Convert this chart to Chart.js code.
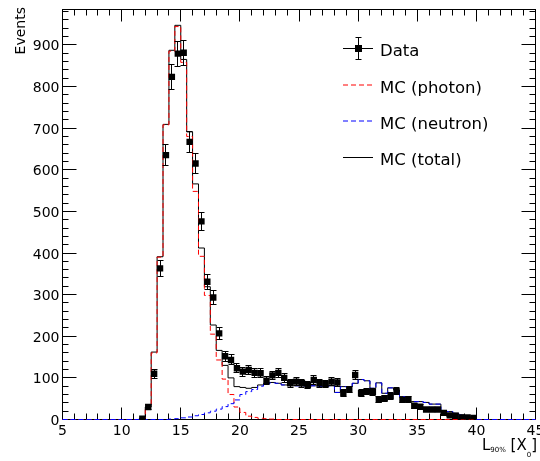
<!DOCTYPE html>
<html>
<head>
<meta charset="utf-8">
<script src="https://cdn.jsdelivr.net/npm/chart.js@4/dist/chart.umd.min.js"></script>
<style>
  html, body { margin: 0; padding: 0; background: #fff; }
  canvas { display: block; }
</style>
</head>
<body>
<canvas id="chart" width="540" height="461"></canvas>
<script>
'use strict'

// 0.5 X0 bins, the first filled bin starts at 11.5 X0
const binStart = 11.5
const binWidth = 0.5

const dataEvents = [
  2, 30, 110, 363, 635, 823, 879, 881, 667, 615, 476, 331, 293, 207, 152, 143,
  123, 115, 119, 112, 111, 93, 106, 112, 100, 87, 91, 87, 83, 95, 87, 85,
  91, 89, 63, 72, 107, 63, 67, 66, 48, 51, 56, 68, 47, 48, 33, 31,
  24, 24, 24, 16, 10, 9, 5, 5, 4,
]
const dataErrors = [
  1, 5, 11, 19, 25, 29, 30, 30, 26, 25, 22, 18, 17, 14, 12, 12,
  11, 11, 11, 11, 11, 10, 10, 11, 10, 9, 10, 9, 9, 10, 9, 9,
  10, 9, 8, 8, 10, 8, 8, 8, 7, 7, 8, 8, 7, 7, 6, 6,
  5, 5, 5, 4, 3, 3, 2, 2, 2,
]
const mcPhoton = [
  3, 30, 160, 390, 708, 885, 944, 858, 680, 548, 392, 298, 205, 143, 97, 60,
  30, 17, 8, 5, 3, 2, 1, 0, 0, 0, 0, 0, 0, 0, 0, 0,
  0, 0, 0, 0, 0, 0, 0, 0, 0, 0, 0, 0, 0, 0, 0, 0,
  0, 0, 0, 0, 0, 0, 0, 0, 0,
]
const mcNeutron = [
  0, 0, 0, 0, 0, 1, 2, 4, 6, 9, 12, 16, 20, 25, 31, 38,
  47, 60, 67, 72, 80, 85, 88, 87, 83, 82, 81, 81, 80, 81, 80, 80,
  81, 65, 79, 79, 87, 96, 93, 75, 88, 63, 76, 71, 55, 43, 43, 43,
  41, 37, 37, 19, 19, 15, 11, 5, 5,
]
const mcTotal = [
  3, 30, 162, 391, 709, 887, 947, 865, 691, 566, 412, 319, 227, 166, 130, 100,
  79, 77, 75, 77, 83, 87, 89, 87, 83, 82, 81, 81, 80, 81, 80, 80,
  81, 65, 79, 79, 87, 96, 93, 75, 88, 63, 76, 71, 55, 43, 43, 43,
  41, 37, 37, 19, 19, 15, 11, 5, 5,
]

const xTicks = [5, 10, 15, 20, 25, 30, 35, 40, 45]
const yTicks = [0, 100, 200, 300, 400, 500, 600, 700, 800, 900]

const legendItems = [
  { label: 'Data', color: '#000000', dash: [], marker: true },
  { label: 'MC (photon)', color: '#ff0000', dash: [5, 3] },
  { label: 'MC (neutron)', color: '#0000ff', dash: [5, 3] },
  { label: 'MC (total)', color: '#000000', dash: [] },
]

const FONT = '"DejaVu Sans", "Liberation Sans", sans-serif'

function histPoints(values) {
  const pts = [{ x: 5, y: 0 }]
  values.forEach((v, i) => pts.push({ x: binStart + i * binWidth, y: v }))
  pts.push({ x: binStart + values.length * binWidth, y: 0 })
  pts.push({ x: 45, y: 0 })
  return pts
}

function snap(v) {
  return Math.round(v - 0.5) + 0.5
}

const rootStyle = {
  id: 'rootStyle',
  beforeDatasetsDraw(chart) {
    const { ctx, chartArea: a } = chart
    const x = chart.scales.x
    const y = chart.scales.y
    ctx.save()
    ctx.strokeStyle = '#000'
    ctx.lineWidth = 1
    ctx.strokeRect(a.left, a.top, a.right - a.left, a.bottom - a.top)

    // ticks on all four sides, pointing inward
    ctx.beginPath()
    for (let v = 5; v <= 45; v += 1) {
      const px = snap(x.getPixelForValue(v))
      const len = v % 5 === 0 ? 12 : 6
      ctx.moveTo(px, a.bottom)
      ctx.lineTo(px, a.bottom - len)
      ctx.moveTo(px, a.top)
      ctx.lineTo(px, a.top + len)
    }
    for (let v = 0; v <= y.max; v += 20) {
      const py = snap(y.getPixelForValue(v))
      const len = v % 100 === 0 ? 14 : 6
      ctx.moveTo(a.left, py)
      ctx.lineTo(a.left + len, py)
      ctx.moveTo(a.right, py)
      ctx.lineTo(a.right - len, py)
    }
    ctx.stroke()

    // tick labels
    ctx.fillStyle = '#000'
    ctx.font = '14px ' + FONT
    ctx.textAlign = 'right'
    ctx.textBaseline = 'alphabetic'
    yTicks.forEach(v => ctx.fillText(String(v), 59.5, y.getPixelForValue(v) + 5.5))
    ctx.textAlign = 'center'
    xTicks.forEach(v => ctx.fillText(String(v), x.getPixelForValue(v), 435))

    // y title
    ctx.save()
    ctx.translate(25, 7)
    ctx.rotate(-Math.PI / 2)
    ctx.textAlign = 'right'
    ctx.font = '14px ' + FONT
    ctx.fillText('Events', 0, 0)
    ctx.restore()

    // x title L_{90%} [X_0], right aligned to the frame
    const parts = [
      { t: 'L', size: 15, dy: 0 },
      { t: '90%', size: 7, dy: 2 },
      { t: ' [X', size: 15, dy: 0 },
      { t: '0', size: 7, dy: 7 },
      { t: ']', size: 15, dy: 0 },
    ]
    let w = 0
    parts.forEach(p => {
      ctx.font = p.size + 'px ' + FONT
      p.w = ctx.measureText(p.t).width
      w += p.w
    })
    let cx = 537 - w
    ctx.textAlign = 'left'
    parts.forEach(p => {
      ctx.font = p.size + 'px ' + FONT
      ctx.fillText(p.t, cx, 450 + p.dy)
      cx += p.w
    })
    ctx.restore()
  },
  afterDatasetsDraw(chart) {
    const { ctx } = chart
    const x = chart.scales.x
    const y = chart.scales.y
    ctx.save()
    ctx.strokeStyle = '#000'
    ctx.lineWidth = 1
    ctx.beginPath()
    dataEvents.forEach((v, i) => {
      const px = snap(x.getPixelForValue(binStart + (i + 0.5) * binWidth))
      const lo = y.getPixelForValue(Math.max(v - dataErrors[i], 0))
      const hi = y.getPixelForValue(v + dataErrors[i])
      ctx.moveTo(px, lo)
      ctx.lineTo(px, hi)
      ctx.moveTo(px - 3, snap(lo))
      ctx.lineTo(px + 3, snap(lo))
      ctx.moveTo(px - 3, snap(hi))
      ctx.lineTo(px + 3, snap(hi))
    })
    ctx.stroke()
    ctx.restore()
  },
  afterDraw(chart) {
    const { ctx } = chart
    ctx.save()
    const x0 = 343
    const x1 = 373
    const rows = [48.5, 85, 121, 157.5]
    const base = [56, 93, 129, 165]
    legendItems.forEach((item, i) => {
      const yy = rows[i]
      ctx.strokeStyle = item.color
      ctx.lineWidth = 1
      ctx.setLineDash(item.dash)
      ctx.beginPath()
      ctx.moveTo(x0, yy)
      ctx.lineTo(x1, yy)
      ctx.stroke()
      ctx.setLineDash([])
      if (item.marker) {
        const mx = 358.5
        ctx.beginPath()
        ctx.moveTo(mx, 37)
        ctx.lineTo(mx, 60)
        ctx.moveTo(mx - 3, 37.5)
        ctx.lineTo(mx + 3, 37.5)
        ctx.moveTo(mx - 3, 59.5)
        ctx.lineTo(mx + 3, 59.5)
        ctx.stroke()
        ctx.fillStyle = '#000'
        ctx.fillRect(mx - 3.5, yy - 3.5, 7, 7)
      }
      ctx.fillStyle = '#000'
      ctx.font = '16.5px ' + FONT
      ctx.textAlign = 'left'
      ctx.textBaseline = 'alphabetic'
      ctx.fillText(item.label, 380, base[i])
    })
    ctx.restore()
  },
}

const histStyle = {
  stepped: 'before',
  pointRadius: 0,
  borderWidth: 1,
  fill: false,
  tension: 0,
  clip: 4,
}

const ctx = document.getElementById('chart').getContext('2d')

const chart = new Chart(ctx, {
  type: 'line',
  data: {
    datasets: [
      {
        label: 'Data',
        data: dataEvents.map((v, i) => ({ x: binStart + (i + 0.5) * binWidth, y: v })),
        showLine: false,
        pointStyle: 'rect',
        pointRadius: 4.5,
        pointBorderWidth: 0,
        pointBackgroundColor: '#000',
        borderColor: '#000',
        order: 0,
      },
      Object.assign({
        label: 'MC (neutron)',
        data: histPoints(mcNeutron),
        borderColor: '#0000ff',
        borderDash: [5, 3],
        order: 1,
      }, histStyle),
      Object.assign({
        label: 'MC (photon)',
        data: histPoints(mcPhoton),
        borderColor: '#ff0000',
        borderDash: [5, 3],
        order: 2,
      }, histStyle),
      Object.assign({
        label: 'MC (total)',
        data: histPoints(mcTotal),
        borderColor: '#000',
        order: 3,
      }, histStyle),
    ],
  },
  options: {
    responsive: false,
    animation: false,
    events: [],
    layout: {
      padding: { left: 62.5, right: 2.5, top: 9.5, bottom: 41.5 },
    },
    scales: {
      x: { type: 'linear', min: 5, max: 45, display: false },
      y: { type: 'linear', min: 0, max: 985, display: false },
    },
    plugins: {
      legend: { display: false },
      tooltip: { enabled: false },
    },
  },
  plugins: [rootStyle],
})
</script>
</body>
</html>
